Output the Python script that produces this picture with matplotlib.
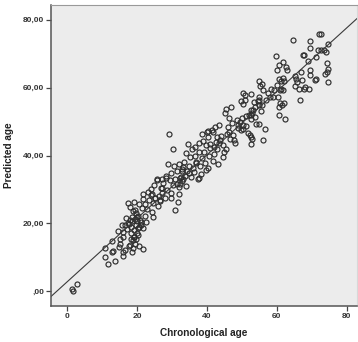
import numpy as np
import matplotlib
matplotlib.use("Agg")
import matplotlib.pyplot as plt

plt.rcParams['font.family'] = ['Liberation Sans', 'DejaVu Sans']

# (chronological age, predicted age), grouped by age band
band_0_16 = [(1.5, 0.6), (1.7, 0.1), (2.9, 2.2), (10.9, 12.7), (10.8, 10.1), (11.7, 8.2),
             (13.8, 9.0), (12.9, 14.9), (12.9, 11.5), (14.8, 13.0), (15.1, 15.4), (15.9, 16.0),
             (15.9, 10.5), (16.1, 11.7), (16.7, 12.3), (13.2, 12.0), (15.2, 14.0), (14.6, 17.8),
             (16.1, 17.4), (15.6, 19.6)]
band_16_22 = [(16.9, 21.7), (17.0, 18.4), (17.3, 20.2), (17.8, 19.9), (17.6, 13.4), (18.0, 13.6),
              (18.2, 15.3), (18.4, 17.2), (18.3, 19.0), (18.6, 20.7), (18.5, 22.0), (18.8, 23.6),
              (18.1, 24.8), (17.4, 26.1), (19.2, 26.3), (19.0, 18.0), (19.1, 16.1), (19.3, 14.0),
              (19.4, 21.4), (19.6, 19.5), (19.7, 23.0), (19.9, 17.3), (20.0, 20.6), (20.2, 22.3),
              (19.5, 24.1), (20.4, 18.8), (20.6, 19.0), (20.9, 21.1), (18.9, 12.7), (19.8, 15.4),
              (20.3, 16.6), (21.0, 19.5), (18.7, 11.5), (20.5, 13.5), (17.9, 21.0), (16.5, 19.5),
              (18.8, 15.2), (19.0, 16.0), (19.9, 21.9), (20.5, 25.8), (21.8, 12.5), (21.8, 18.8),
              (21.2, 20.5), (21.4, 24.6), (22.2, 25.8), (21.8, 27.2)]
band_22_33 = [(21.8, 28.6), (23.9, 28.3), (22.3, 22.2), (22.8, 24.3), (24.3, 23.4), (24.7, 25.9),
              (25.6, 32.8), (24.0, 30.0), (26.3, 28.1), (25.9, 25.1), (23.4, 26.8), (25.2, 27.6),
              (26.8, 30.5), (22.5, 20.5), (24.8, 31.3), (26.6, 26.6), (23.0, 29.4), (27.5, 31.8),
              (28.5, 29.9), (29.4, 32.8), (26.6, 26.9), (27.9, 27.5), (29.6, 29.0), (30.2, 31.2),
              (31.0, 33.2), (30.8, 24.1), (31.7, 26.2), (28.3, 34.0), (29.1, 46.2), (30.2, 41.9),
              (28.9, 37.6), (31.3, 35.5), (32.0, 30.6), (32.6, 33.8), (30.6, 36.9), (31.9, 37.4),
              (32.4, 31.7), (27.2, 29.0), (29.8, 34.9), (31.5, 31.6), (32.8, 35.9), (27.0, 30.5),
              (25.7, 33.0), (24.6, 22.0), (25.1, 27.4), (29.7, 27.5), (31.9, 28.8), (27.0, 33.2),
              (28.4, 33.3), (33.2, 33.0), (24.3, 28.6)]
band_33_41 = [(33.1, 36.6), (33.5, 38.2), (34.0, 40.6), (34.6, 43.4), (35.8, 41.8), (35.2, 39.5),
              (36.6, 42.5), (37.0, 38.0), (33.8, 34.0), (34.4, 35.4), (35.4, 33.6), (36.2, 35.1),
              (37.4, 33.2), (38.4, 34.5), (39.6, 35.6), (38.0, 36.9), (36.8, 37.8), (38.7, 39.3),
              (39.2, 41.0), (39.8, 43.0), (40.3, 45.3), (40.0, 46.9), (39.0, 44.4), (40.9, 42.2),
              (40.6, 39.8), (37.8, 40.9), (39.5, 37.8), (34.8, 37.0), (36.0, 36.3), (37.6, 43.7),
              (38.5, 46.4), (33.0, 32.4), (34.1, 30.9), (40.4, 36.4), (40.3, 47.2), (35.0, 34.8),
              (37.7, 33.3), (36.5, 39.9), (32.3, 33.4), (32.9, 35.3)]
band_41_48 = [(43.5, 48.9), (42.2, 48.5), (41.4, 47.5), (41.8, 46.9), (42.8, 45.5), (43.7, 44.6),
              (43.5, 43.6), (44.5, 43.0), (45.6, 46.3), (47.9, 43.6), (46.9, 54.2), (45.4, 53.8),
              (45.1, 52.6), (46.4, 51.0), (42.0, 40.5), (43.0, 41.8), (44.5, 39.5), (41.6, 38.4),
              (45.5, 42.0), (46.5, 44.8), (47.5, 46.0), (44.0, 45.8), (46.0, 48.5), (47.2, 49.6),
              (42.5, 44.0), (46.2, 47.0), (47.7, 44.5), (41.0, 43.5), (44.8, 41.0), (43.2, 37.5),
              (42.0, 42.5)]
band_48_56 = [(50.4, 58.3), (50.9, 57.9), (52.5, 58.1), (49.8, 55.9), (50.2, 55.1), (50.9, 56.3),
              (54.8, 57.3), (54.6, 55.9), (53.8, 54.4), (54.9, 54.8), (55.7, 54.8), (55.5, 53.2),
              (53.2, 53.4), (52.5, 53.4), (51.9, 52.0), (52.5, 51.8), (51.3, 51.6), (50.0, 51.0),
              (49.4, 49.9), (50.2, 48.9), (48.9, 48.1), (53.0, 52.5), (52.7, 50.6), (51.3, 48.7),
              (51.7, 46.7), (52.3, 46.1), (52.9, 44.9), (52.7, 43.4), (50.4, 47.9), (49.0, 48.9),
              (49.8, 47.5), (54.0, 49.3), (54.8, 49.3), (53.8, 51.2), (52.6, 45.4), (48.5, 50.5),
              (53.5, 55.8), (55.0, 56.3)]
band_56_63 = [(56.7, 47.9), (56.1, 44.6), (54.8, 62.0), (55.7, 61.0), (55.3, 60.6), (55.9, 59.3),
              (56.9, 56.3), (58.0, 57.1), (58.9, 57.3), (60.3, 57.1), (60.7, 62.6), (61.8, 62.8),
              (61.1, 61.8), (60.1, 60.8), (61.2, 59.6), (59.3, 59.3), (60.9, 59.3), (61.8, 59.3),
              (58.4, 59.5), (60.7, 54.4), (60.9, 55.4), (61.4, 54.8), (62.0, 55.4), (60.7, 51.8),
              (62.2, 50.8), (59.7, 69.3), (61.8, 67.5), (60.5, 66.5), (62.6, 66.1), (62.8, 65.1),
              (59.9, 65.1), (62.0, 62.0), (57.5, 58.5)]
band_63_76 = [(64.7, 74.0), (69.6, 73.8), (72.1, 75.9), (72.7, 75.9), (69.6, 71.6), (74.6, 72.8),
              (71.7, 71.0), (72.7, 71.0), (73.4, 71.2), (74.0, 70.4), (67.7, 69.6), (68.9, 67.7),
              (71.3, 68.9), (74.4, 67.1), (74.6, 65.4), (74.2, 64.6), (73.8, 64.0), (69.6, 65.1),
              (69.4, 63.8), (66.8, 64.6), (65.4, 62.6), (65.8, 61.6), (67.1, 62.2), (67.9, 60.1),
              (69.1, 59.6), (67.7, 59.5), (66.2, 59.5), (65.2, 60.6), (71.3, 62.4), (74.6, 61.6),
              (66.6, 56.3), (65.2, 63.5), (70.9, 62.1), (67.5, 69.6)]

# fit line shown on the chart
fit_intercept = 2.8
fit_slope = 0.935

x_ticks = [0, 20, 40, 60, 80]
x_ticklabels = ["0", "20", "40", "60", "80"]
y_ticks = [0, 20, 40, 60, 80]
y_ticklabels = [",00", "20,00", "40,00", "60,00", "80,00"]

pts = np.array(band_0_16 + band_16_22 + band_22_33 + band_33_41 +
               band_41_48 + band_48_56 + band_56_63 + band_63_76)
chron = pts[:, 0]
pred = pts[:, 1]

fig = plt.figure(figsize=(3.58, 3.42), dpi=100)
ax = fig.add_axes([51/358, 36/342, 306/358, 301/342])
ax.set_facecolor('#ececec')

ax.plot(chron, pred, 'o', ms=3.6, mfc='none', mec='#2e2e2e', mew=0.85)

xlim = (-4.6, 82.9)
ax.set_xlim(*xlim)
ax.set_ylim(-4.3, 84.3)
xl = np.array(xlim)
ax.plot(xl, fit_intercept + fit_slope * xl, color='#3a3a3a', lw=0.8)

ax.set_xticks(x_ticks)
ax.set_xticklabels(x_ticklabels)
ax.set_yticks(y_ticks)
ax.set_yticklabels(y_ticklabels)
ax.tick_params(direction='out', length=3.5, width=0.9, color='#444444',
               labelsize=6, labelcolor='#333333', pad=1.5)
for lab in ax.get_xticklabels() + ax.get_yticklabels():
    lab.set_fontweight('bold')

for side in ['left', 'bottom']:
    ax.spines[side].set_color('#555555')
    ax.spines[side].set_linewidth(1.1)
ax.spines['top'].set_color('#999999')
ax.spines['right'].set_color('#d8d8d8')

ax.set_xlabel("Chronological age", fontsize=7.2, fontweight='bold', color='#222222', labelpad=6)
ax.set_ylabel("Predicted age", fontsize=7.2, fontweight='bold', color='#222222', labelpad=6)

fig.savefig("out.png", dpi=100, facecolor='white')
